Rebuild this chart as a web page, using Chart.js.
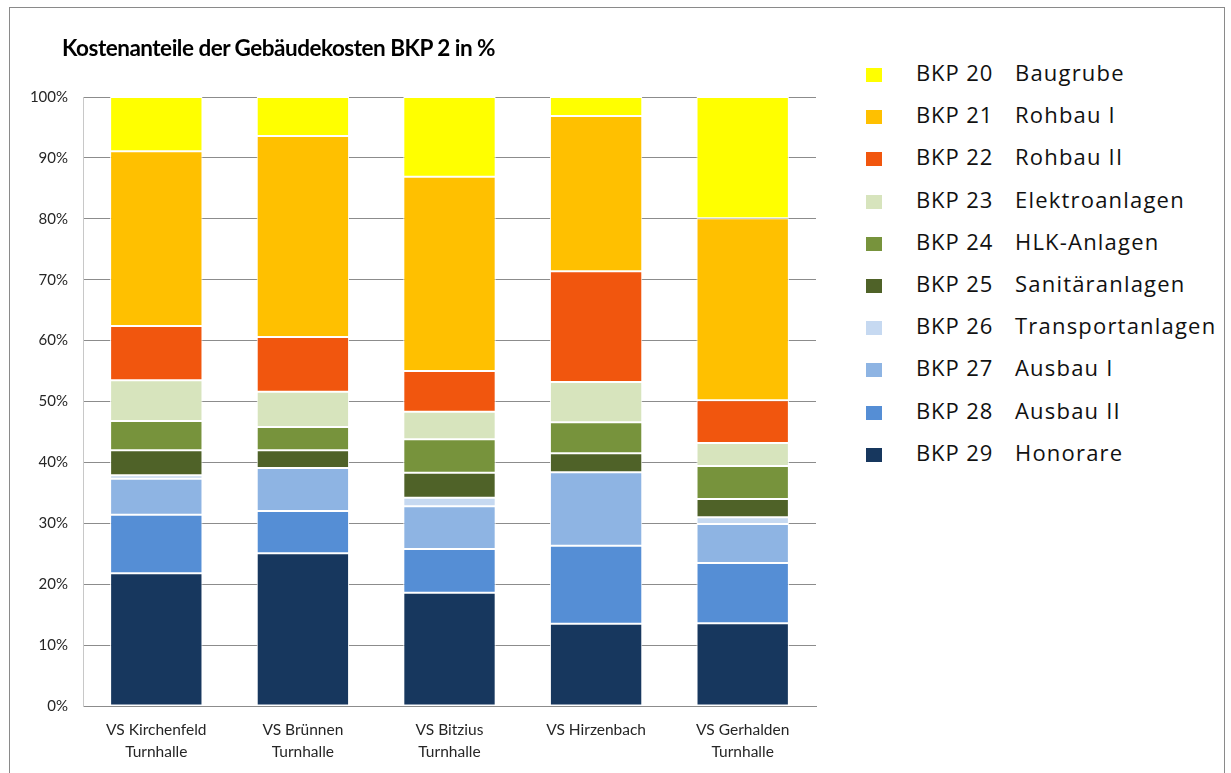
<!DOCTYPE html>
<html>
<head>
<meta charset="utf-8">
<script src="https://cdn.jsdelivr.net/npm/chart.js@4"></script>
<style>
  html, body { margin: 0; padding: 0; background: #fff; }
  #page { position: relative; width: 1231px; height: 773px; overflow: hidden; }
  #frame { position: absolute; left: 9px; top: 7px; width: 1216px; height: 800px;
           border: 1px solid #8a8a8a; box-sizing: border-box; }
  #chart-box { position: absolute; left: 0; top: 0; width: 830px; height: 773px; }
  #title { position: absolute; left: 62px; top: 32px; font-family: Lato, sans-serif;
           font-weight: 700; font-size: 22.5px; letter-spacing: -0.5px; color: #000;
           white-space: nowrap; line-height: 32px; }
  #legend { position: absolute; left: 866px; top: 55px; font-family: "Open Sans", sans-serif;
            font-size: 22px; color: #111; }
  .lg-row { position: relative; height: 42.2px; }
  .lg-sw { position: absolute; left: 0; top: 13px; width: 16px; height: 14px; }
  .lg-code { position: absolute; left: 50px; top: 2px; white-space: nowrap; letter-spacing: 0.9px; }
  .lg-name { position: absolute; left: 149px; top: 2px; white-space: nowrap; letter-spacing: 1.2px; }
</style>
</head>
<body>
<div id="page">
  <div id="frame"></div>
  <div id="chart-box"><canvas id="chart" width="830" height="773"></canvas></div>
  <div id="title">Kostenanteile der Gebäudekosten BKP 2 in %</div>
  <div id="legend"></div>
</div>
<script>
/* ---- Data ---- */
const categories = [
  ['VS Kirchenfeld', 'Turnhalle'],
  ['VS Brünnen', 'Turnhalle'],
  ['VS Bitzius', 'Turnhalle'],
  'VS Hirzenbach',
  ['VS Gerhalden', 'Turnhalle'],
];

const seriesCodes = ['BKP 29', 'BKP 28', 'BKP 27', 'BKP 26', 'BKP 25',
                     'BKP 24', 'BKP 23', 'BKP 22', 'BKP 21', 'BKP 20'];
const seriesNames = ['Honorare', 'Ausbau II', 'Ausbau I', 'Transportanlagen', 'Sanitäranlagen',
                     'HLK-Anlagen', 'Elektroanlagen', 'Rohbau II', 'Rohbau I', 'Baugrube'];
const seriesColors = ['#17375e', '#558ed5', '#8eb4e3', '#c6d9f1', '#4f6228',
                      '#77933c', '#d7e4bd', '#f1560e', '#ffc000', '#ffff00'];

// values in % per category (Kirchenfeld, Brünnen, Bitzius, Hirzenbach, Gerhalden)
const bkp29 = [21.8, 25.1, 18.6, 13.5, 13.6];
const bkp28 = [9.6, 6.9, 7.2, 12.8, 9.9];
const bkp27 = [5.9, 7.1, 7.0, 12.1, 6.4];
const bkp26 = [0.6, 0.0, 1.4, 0.0, 1.1];
const bkp25 = [4.1, 2.9, 4.1, 3.1, 3.0];
const bkp24 = [4.8, 3.8, 5.5, 5.1, 5.4];
const bkp23 = [6.7, 5.8, 4.5, 6.6, 3.8];
const bkp22 = [8.9, 9.0, 6.7, 18.2, 7.0];
const bkp21 = [28.7, 33.0, 31.9, 25.5, 29.9];
const bkp20 = [8.9, 6.4, 13.1, 3.1, 19.9];

const seriesValues = [bkp29, bkp28, bkp27, bkp26, bkp25, bkp24, bkp23, bkp22, bkp21, bkp20];

const yTicks = [0, 10, 20, 30, 40, 50, 60, 70, 80, 90, 100];

/* ---- Legend (top-down: BKP 20 first) ---- */
const legendEl = document.getElementById('legend');
for (let i = seriesCodes.length - 1; i >= 0; i--) {
  const row = document.createElement('div');
  row.className = 'lg-row';
  row.innerHTML = `<span class="lg-sw" style="background:${seriesColors[i]}"></span>` +
    `<span class="lg-code">${seriesCodes[i]}</span><span class="lg-name">${seriesNames[i]}</span>`;
  legendEl.appendChild(row);
}

/* ---- Chart ---- */
const datasets = seriesValues.map((vals, i) => ({
  label: seriesCodes[i] + ' ' + seriesNames[i],
  data: vals,
  backgroundColor: seriesColors[i],
  borderColor: '#ffffff',
  borderWidth: 1,
  borderSkipped: false,
  barPercentage: 0.63,
  categoryPercentage: 1.0,
}));

new Chart(document.getElementById('chart'), {
  type: 'bar',
  data: { labels: categories, datasets },
  options: {
    responsive: false,
    devicePixelRatio: 1,
    animation: false,
    layout: { padding: { left: 0, right: 14, top: 97, bottom: 0 } },
    plugins: {
      legend: { display: false },
      title: { display: false },
      tooltip: { enabled: false },
    },
    scales: {
      x: {
        stacked: true,
        grid: { display: false, drawTicks: false },
        border: { display: true, color: '#8c8c8c' },
        ticks: { color: '#262626', font: { family: 'Lato, sans-serif', size: 15.5, lineHeight: 1.42 },
                 padding: 13, maxRotation: 0 },
        afterFit: (scale) => { scale.height = 67; },
      },
      y: {
        stacked: true,
        min: 0,
        max: 100,
        afterBuildTicks: (scale) => { scale.ticks = yTicks.map((v) => ({ value: v })); },
        grid: { color: '#8c8c8c', drawTicks: false },
        border: { display: true, color: '#c8c8c8' },
        ticks: { color: '#262626', font: { family: 'Lato, sans-serif', size: 15 }, padding: 15,
                 callback: (v) => v + '%' },
        afterFit: (scale) => { scale.width = 83; },
      },
    },
  },
});
</script>
</body>
</html>
